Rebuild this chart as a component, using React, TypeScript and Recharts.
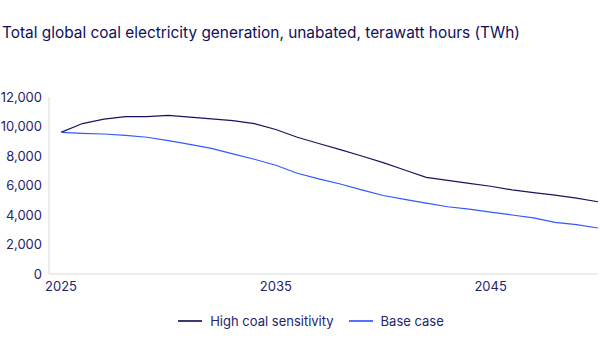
import { Line, LineChart, XAxis, YAxis } from "recharts";

const YEARS = [
  2025, 2026, 2027, 2028, 2029, 2030, 2031, 2032, 2033, 2034, 2035, 2036, 2037,
  2038, 2039, 2040, 2041, 2042, 2043, 2044, 2045, 2046, 2047, 2048, 2049, 2050,
];
const HIGH_COAL = [
  9600, 10200, 10500, 10670, 10670, 10760, 10640, 10520, 10400, 10200, 9800,
  9270, 8850, 8430, 8000, 7550, 7050, 6550, 6350, 6150, 5950, 5700, 5520, 5350,
  5150, 4900,
];
const BASE_CASE = [
  9600, 9540, 9490, 9400, 9270, 9040, 8790, 8520, 8140, 7780, 7370, 6830, 6450,
  6100, 5700, 5320, 5060, 4800, 4560, 4400, 4200, 4000, 3800, 3500, 3350, 3120,
];
const X_TICKS = [2025, 2035, 2045];
const Y_TICKS = [0, 2000, 4000, 6000, 8000, 10000, 12000];

const NAVY = "#16165e";
const BLUE = "#3358ff";
const TEXT = "#24246c";
const AXIS = "#dadada";
const FONT = "Inter, 'Noto Sans', sans-serif";

const data = YEARS.map((year, i) => ({
  year,
  high: HIGH_COAL[i],
  base: BASE_CASE[i],
}));

const LEGEND = [
  { label: "High coal sensitivity", color: NAVY },
  { label: "Base case", color: BLUE },
];

export default function App() {
  return (
    <div
      style={{
        position: "fixed",
        left: 0,
        top: 0,
        width: 600,
        height: 355,
        background: "#fff",
        fontFamily: FONT,
      }}
    >
      <div
        style={{
          position: "absolute",
          left: 2,
          top: 23,
          fontSize: 15.4,
          fontWeight: 400,
          color: "#0f0f5a",
          whiteSpace: "nowrap",
        }}
      >
        Total global coal electricity generation, unabated, terawatt hours (TWh)
      </div>
      <div style={{ position: "absolute", left: 0, top: 0 }}>
        <LineChart
          width={600}
          height={300}
          data={data}
          margin={{ top: 97, right: 2, bottom: 0, left: 0 }}
        >
          <XAxis
            dataKey="year"
            type="number"
            domain={[2025, 2050]}
            ticks={X_TICKS}
            padding={{ left: 12, right: 0 }}
            tickLine={false}
            tickSize={0}
            tickMargin={8}
            axisLine={{ stroke: AXIS }}
            tick={{ fontSize: 13, fill: TEXT, fontFamily: FONT }}
            height={26}
          />
          <YAxis
            domain={[0, 12000]}
            ticks={Y_TICKS}
            tickFormatter={(v: number) => v.toLocaleString("en-US")}
            tickLine={false}
            tickSize={0}
            tickMargin={7}
            axisLine={{ stroke: AXIS }}
            tick={{ fontSize: 13, fill: TEXT, fontFamily: FONT }}
            width={49}
          />
          <Line
            dataKey="high"
            stroke={NAVY}
            strokeWidth={1.2}
            dot={false}
            type="linear"
            isAnimationActive={false}
          />
          <Line
            dataKey="base"
            stroke={BLUE}
            strokeWidth={1.2}
            dot={false}
            type="linear"
            isAnimationActive={false}
          />
        </LineChart>
      </div>
      <div
        style={{
          position: "absolute",
          top: 313,
          left: 0,
          width: 600,
          display: "flex",
          justifyContent: "center",
          gap: 15,
          paddingLeft: 22,
          boxSizing: "border-box",
        }}
      >
        {LEGEND.map((l) => (
          <span
            key={l.label}
            style={{
              display: "flex",
              alignItems: "center",
              gap: 8,
              fontSize: 13,
              color: TEXT,
            }}
          >
            <span
              style={{
                display: "inline-block",
                width: 24,
                height: 2,
                background: l.color,
                opacity: 0.85,
              }}
            />
            {l.label}
          </span>
        ))}
      </div>
    </div>
  );
}
